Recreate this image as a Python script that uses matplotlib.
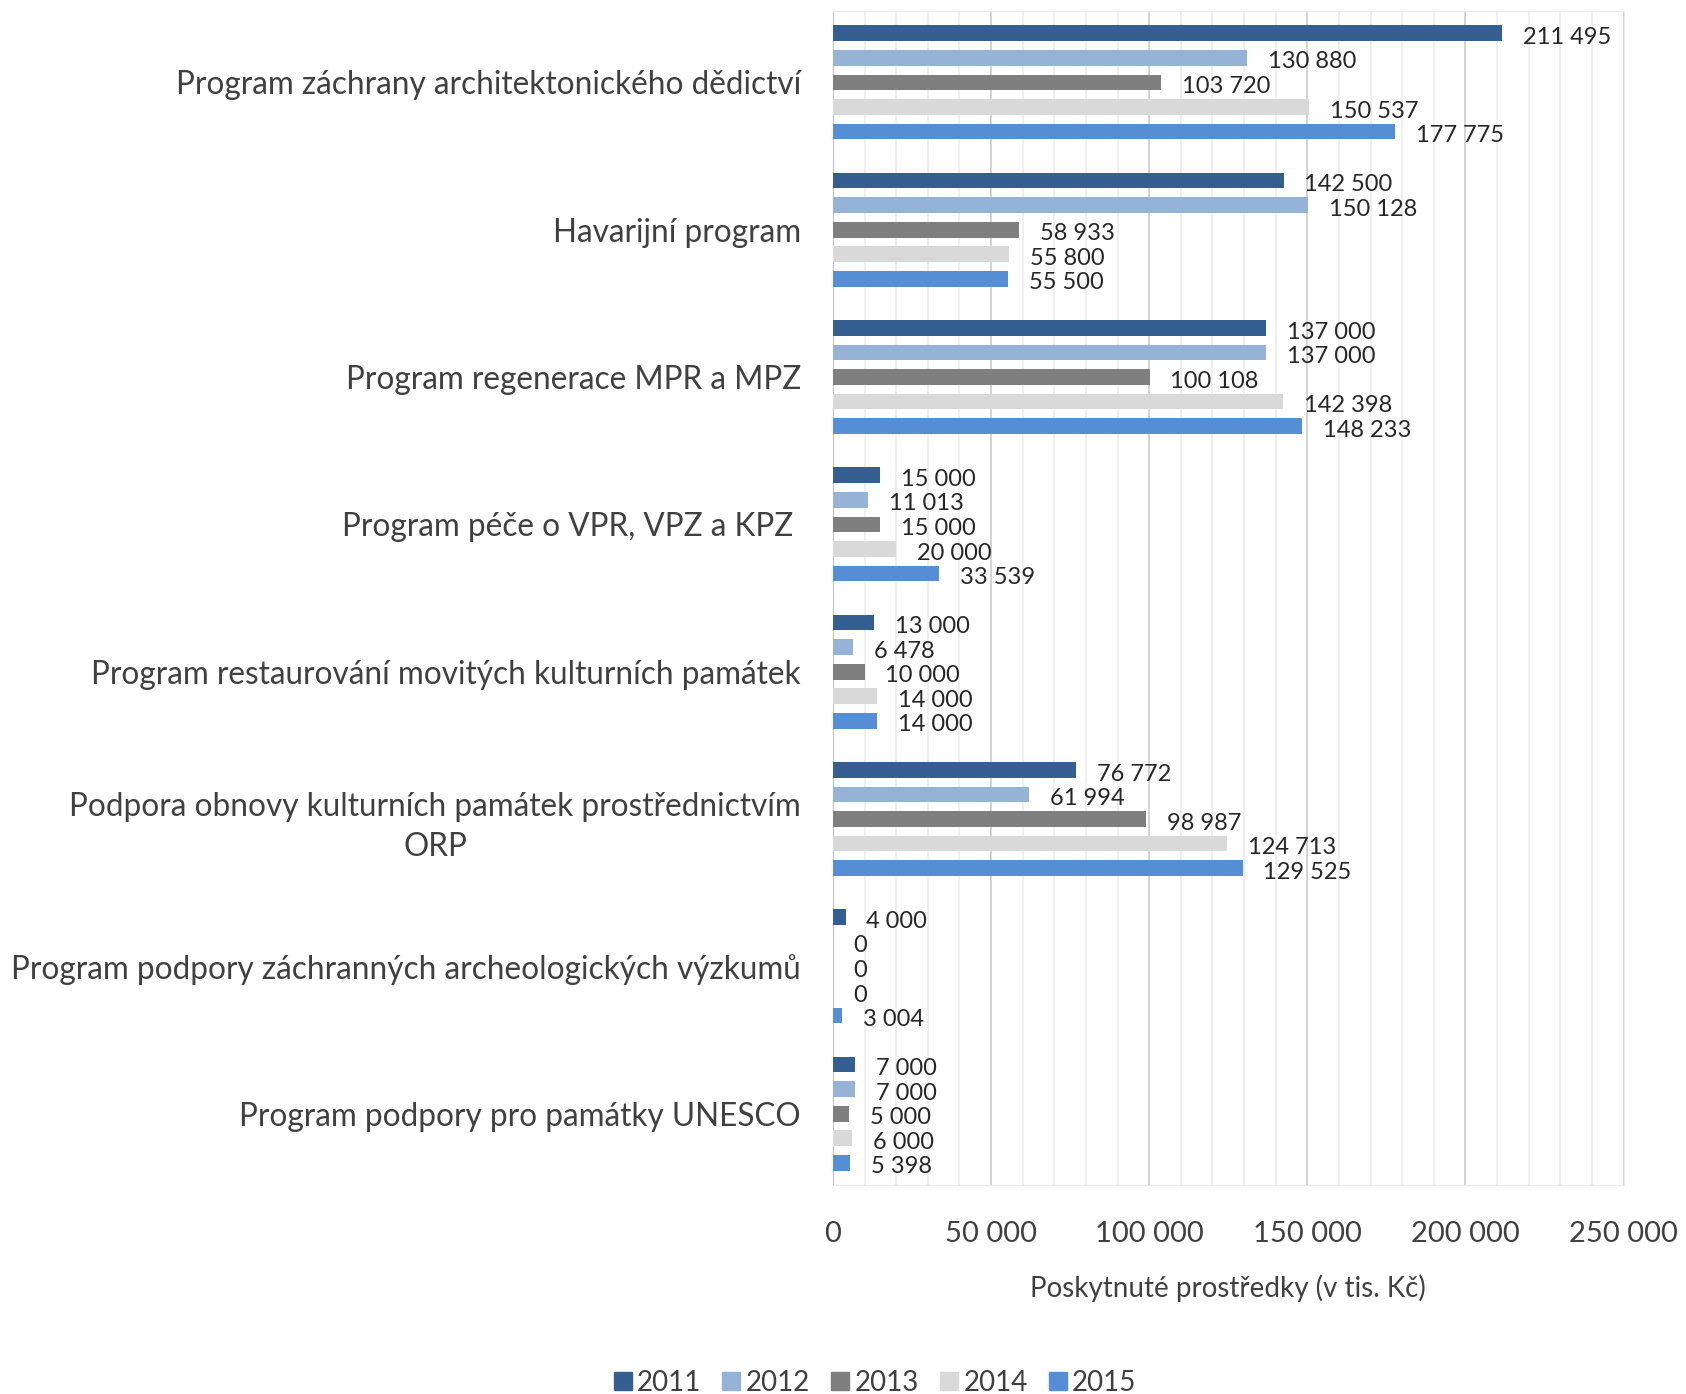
import matplotlib.pyplot as plt
from matplotlib.ticker import MultipleLocator, FuncFormatter
from matplotlib.patches import Patch

plt.rcParams['font.family'] = ['Lato', 'DejaVu Sans']

# programy (shora dolu)
programy = [
    "Program záchrany architektonického dědictví",
    "Havarijní program",
    "Program regenerace MPR a MPZ",
    "Program péče o VPR, VPZ a KPZ ",
    "Program restaurování movitých kulturních památek",
    "Podpora obnovy kulturních památek prostřednictvím\nORP",
    "Program podpory záchranných archeologických výzkumů",
    "Program podpory pro památky UNESCO",
]
roky = ["2011", "2012", "2013", "2014", "2015"]
barvy = ["#365F91", "#95B3D7", "#7F7F7F", "#D9D9D9", "#558ED5"]

# poskytnute prostredky v tis. Kc, jeden seznam na rok
v2011 = [211495, 142500, 137000, 15000, 13000, 76772, 4000, 7000]
v2012 = [130880, 150128, 137000, 11013, 6478, 61994, 0, 7000]
v2013 = [103720, 58933, 100108, 15000, 10000, 98987, 0, 5000]
v2014 = [150537, 55800, 142398, 20000, 14000, 124713, 0, 6000]
v2015 = [177775, 55500, 148233, 33539, 14000, 129525, 3004, 5398]
hodnoty = [v2011, v2012, v2013, v2014, v2015]


def fmt(v):
    return "{:,}".format(int(v)).replace(",", " ")


fig = plt.figure(figsize=(16.86, 13.94), dpi=100)
ax = fig.add_axes([0.494, 0.150, 0.469, 0.842])

krok = 6  # 5 pruhu + mezera
for j, rada in enumerate(hodnoty):
    ys = [i * krok + j for i in range(len(programy))]
    ax.barh(ys, rada, height=0.64, color=barvy[j], zorder=3)
    for y, v in zip(ys, rada):
        ax.annotate(fmt(v), xy=(v, y), xytext=(15, -3), textcoords="offset points",
                    ha="left", va="center", fontsize=17, color="#262626", zorder=4)

ax.set_xlim(0, 250000)
ax.set_ylim(len(programy) * krok - 1.1, -0.9)

ax.xaxis.set_major_locator(MultipleLocator(50000))
ax.xaxis.set_minor_locator(MultipleLocator(10000))
ax.xaxis.set_major_formatter(FuncFormatter(lambda v, p: fmt(v)))
ax.grid(axis="x", which="major", color="#D0D0D0", linewidth=1.3, zorder=0)
ax.grid(axis="x", which="minor", color="#EBEBEB", linewidth=1.1, zorder=0)
ax.tick_params(axis="x", which="both", length=0, pad=26, labelsize=21, labelcolor="#404040")

ax.set_yticks([i * krok + 2 for i in range(len(programy))])
ax.set_yticklabels(programy, fontsize=22.7, color="#404040", multialignment="center",
                   linespacing=1.4)
ax.tick_params(axis="y", length=0, pad=23)

for s in ["top", "right", "bottom"]:
    ax.spines[s].set_color("#EBEBEB")
ax.spines["left"].set_color("#C0C0C0")

ax.set_xlabel("Poskytnuté prostředky (v tis. Kč)", fontsize=20, color="#404040", labelpad=20)

handles = [Patch(color=c, label=r) for c, r in zip(barvy, roky)]
fig.legend(handles=handles, loc="center", bbox_to_anchor=(0.519, 0.008), ncol=5, frameon=False,
           fontsize=20, handlelength=0.65, handleheight=0.65, handletextpad=0.2, columnspacing=0.75,
           labelcolor="#404040")

fig.savefig("out.png", dpi=100)
